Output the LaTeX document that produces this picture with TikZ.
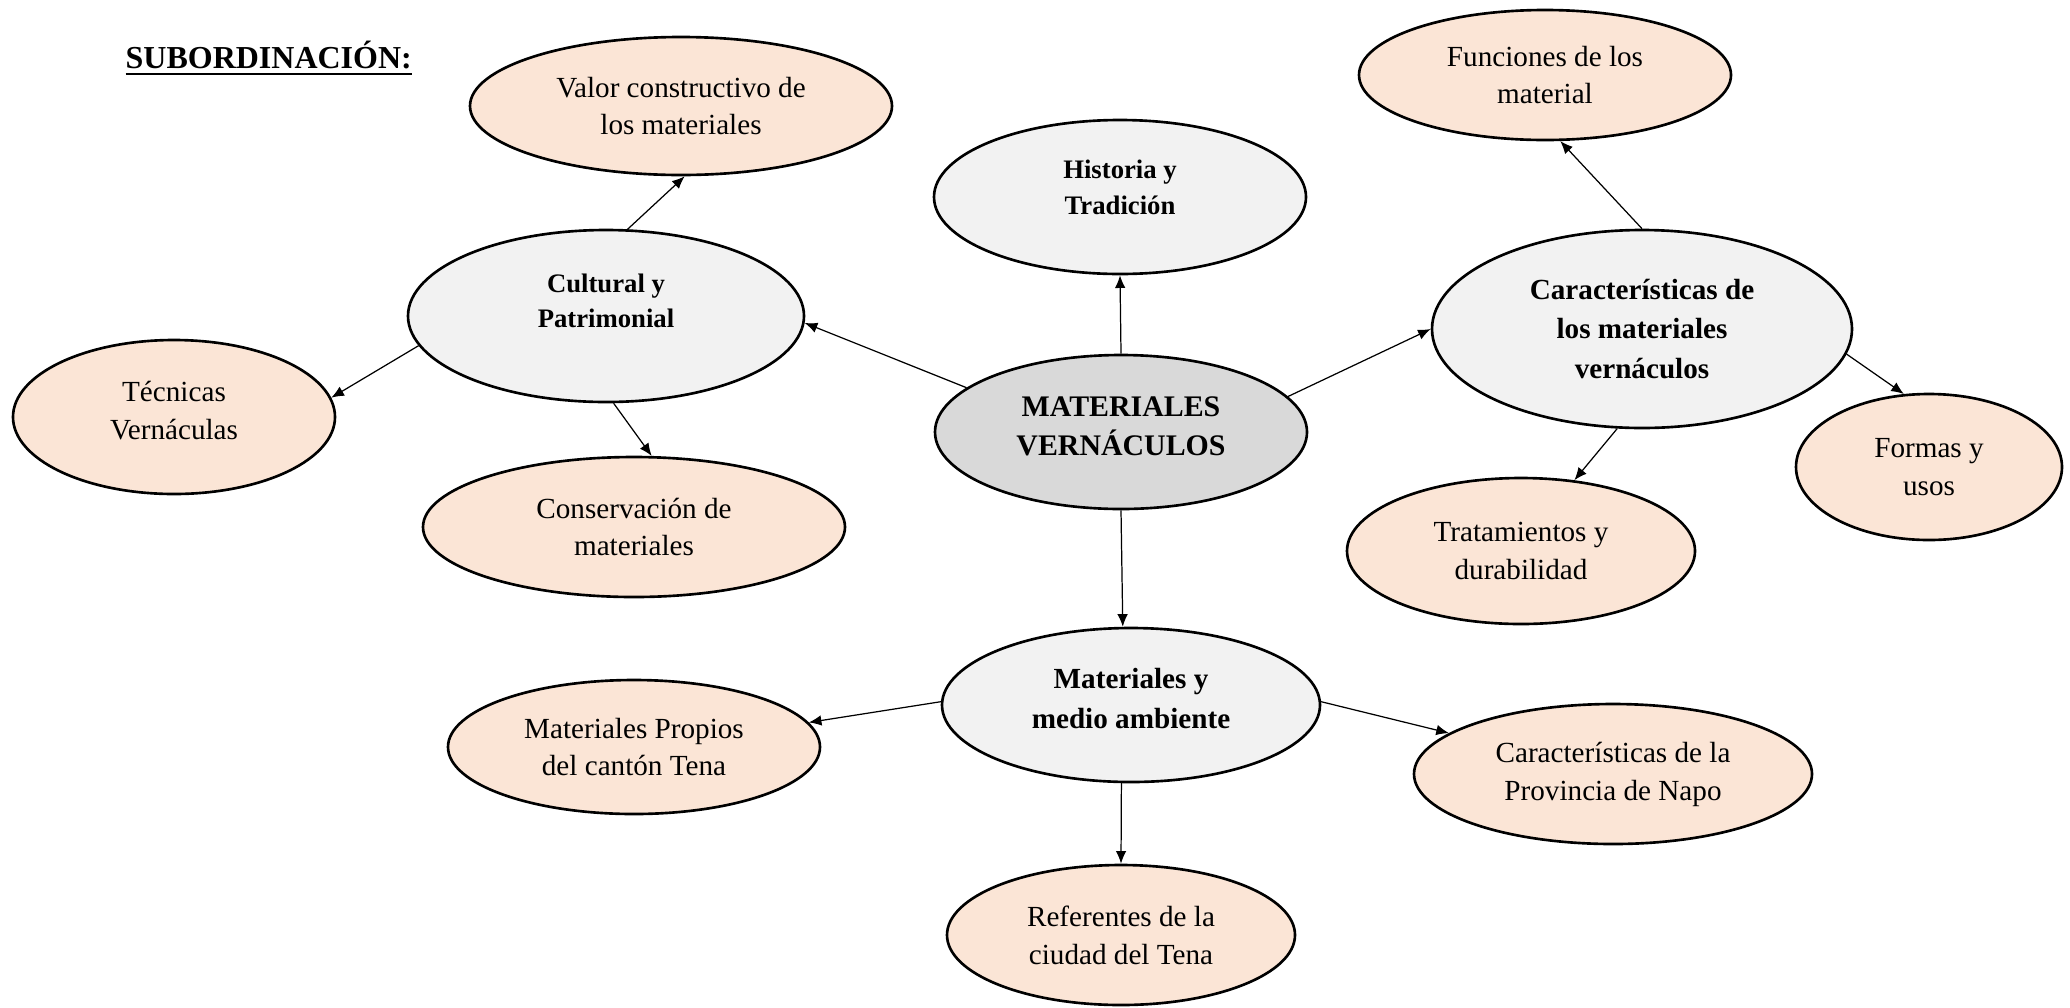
\documentclass[tikz,border=0pt]{standalone}
\usepackage{fontspec}
\setmainfont{Liberation Serif}
\usetikzlibrary{shapes.geometric,arrows.meta}
\definecolor{peach}{HTML}{FBE5D6}
\definecolor{lgray}{HTML}{F2F2F2}
\definecolor{mgray}{HTML}{D9D9D9}
\newcommand{\upshift}[2]{\raisebox{#1}[\height][\depth]{\begin{tabular}{@{}c@{}}#2\end{tabular}}}
\newcommand{\thickul}[1]{\vtop{\hbox{#1}\kern1.2pt\hrule height 0.8pt}}
\tikzset{
  bubble/.style={ellipse, draw=black, line width=0.75pt, inner sep=0pt, align=center,
    font=\fontsize{8.3}{10.8}\selectfont},
  leaf/.style={bubble, fill=peach},
  mid/.style={bubble, fill=lgray, font=\fontsize{8.3}{11.2}\selectfont\bfseries},
  core/.style={bubble, fill=mgray, font=\fontsize{8.5}{11}\selectfont\bfseries},
  link/.style={line width=0.35pt, -{Latex[length=3.6pt,width=3pt]}},
}
\begin{document}
\begin{tikzpicture}
\useasboundingbox (0,0) rectangle (20.70,-10.07);
% title
\node[anchor=base west, inner sep=0pt, font=\fontsize{9.1}{11}\selectfont\bfseries] (title) at (1.25,-0.68) {\thickul{SUBORDINACIÓN:}};
% central
\node[core, minimum width=3.72cm, minimum height=1.54cm] (mat) at (11.21,-4.32) {\upshift{1pt}{MATERIALES\\VERNÁCULOS}};
% second level
\node[mid, minimum width=3.96cm, minimum height=1.72cm, font=\fontsize{7.6}{10}\selectfont\bfseries] (cult) at (6.06,-3.16) {\upshift{3.8pt}{Cultural y\\Patrimonial}};
\node[mid, minimum width=3.72cm, minimum height=1.54cm, font=\fontsize{7.6}{10.2}\selectfont\bfseries] (hist) at (11.20,-1.97) {\upshift{2.2pt}{Historia y\\Tradición}};
\node[mid, minimum width=4.20cm, minimum height=1.98cm] (car) at (16.42,-3.29) {Características de\\los materiales\\vernáculos};
\node[mid, minimum width=3.78cm, minimum height=1.54cm] (med) at (11.31,-7.05) {\upshift{1.2pt}{Materiales y\\medio ambiente}};
% leaves
\node[leaf, minimum width=4.22cm, minimum height=1.38cm] (val) at (6.81,-1.06) {Valor constructivo de\\los materiales};
\node[leaf, minimum width=3.22cm, minimum height=1.54cm] (tec) at (1.74,-4.17) {\upshift{1.2pt}{Técnicas\\Vernáculas}};
\node[leaf, minimum width=4.22cm, minimum height=1.40cm] (cons) at (6.34,-5.27) {Conservación de\\materiales};
\node[leaf, minimum width=3.72cm, minimum height=1.30cm] (fun) at (15.45,-0.75) {Funciones de los\\material};
\node[leaf, minimum width=2.66cm, minimum height=1.46cm] (for) at (19.29,-4.67) {Formas y\\usos};
\node[leaf, minimum width=3.48cm, minimum height=1.46cm] (tra) at (15.21,-5.51) {Tratamientos y\\durabilidad};
\node[leaf, minimum width=3.72cm, minimum height=1.34cm] (pro) at (6.34,-7.47) {Materiales Propios\\del cantón Tena};
\node[leaf, minimum width=3.98cm, minimum height=1.40cm] (nap) at (16.13,-7.74) {Características de la\\Provincia de Napo};
\node[leaf, minimum width=3.48cm, minimum height=1.40cm] (ref) at (11.21,-9.35) {Referentes de la\\ciudad del Tena};
% connectors
\draw[link] (mat.164.9) -- (cult.-2.8);
\draw[link] (mat.north) -- (hist.south);
\draw[link] (mat.12.7) -- (car.180);
\draw[link] (mat.south) -- (med.96.5);
\draw[link] (cult.76.9) -- (val.-87.6);
\draw[link] (cult.189.9) -- (tec.7.6);
\draw[link] (cult.-85.6) -- (cons.76.2);
\draw[link] (car.90.6) -- (fun.-77.1);
\draw[link] (car.-7.3) -- (for.109);
\draw[link] (car.256.5) -- (tra.53.5);
\draw[link] (med.179.6) -- (pro.8.5);
\draw[link] (med.1.2) -- (nap.166.8);
\draw[link] (med.263.4) -- (ref.north);
\end{tikzpicture}
\end{document}
